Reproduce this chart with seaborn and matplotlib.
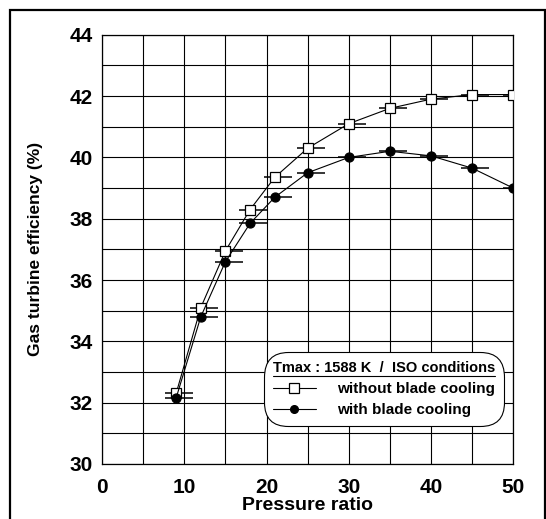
import numpy as np
import pandas as pd
import matplotlib.pyplot as plt
import seaborn as sns
from matplotlib.patches import Rectangle
from matplotlib.lines import Line2D

# data
pressure_ratio = [9, 12, 15, 18, 21, 25, 30, 35, 40, 45, 50]
eff_no_cooling = [32.3, 35.1, 36.95, 38.3, 39.35, 40.3, 41.1, 41.6, 41.9, 42.05, 42.05]
eff_cooling = [32.15, 34.8, 36.6, 37.85, 38.7, 39.5, 40.0, 40.2, 40.05, 39.65, 39.0]
labels = ['without blade cooling', 'with blade cooling']
legend_title = 'Tmax : 1588 K  /  ISO conditions'

df = pd.DataFrame({
    'pr': pressure_ratio * 2,
    'eff': eff_no_cooling + eff_cooling,
    'case': [labels[0]] * len(pressure_ratio) + [labels[1]] * len(pressure_ratio),
})

sns.set_style('white')
plt.rcParams['font.family'] = ['Liberation Sans', 'DejaVu Sans']
plt.rcParams['font.weight'] = 'bold'
plt.rcParams['text.color'] = 'black'
plt.rcParams['axes.labelcolor'] = 'black'
plt.rcParams['xtick.color'] = 'black'
plt.rcParams['ytick.color'] = 'black'

fig = plt.figure(figsize=(5.46, 5.19), dpi=100)
ax = fig.add_axes([0.187, 0.106, 0.753, 0.827])

# dash marks through the points
for eff in [eff_no_cooling, eff_cooling]:
    ax.plot(np.array(pressure_ratio) + 0.4, eff, ls='none', marker='_', ms=20, mew=1.1,
            color='black', zorder=3)

sns.lineplot(data=df, x='pr', y='eff', hue='case', style='case',
             markers={labels[0]: 's', labels[1]: 'o'}, dashes=False,
             palette={labels[0]: 'black', labels[1]: 'black'},
             linewidth=0.8, markersize=7.5, ax=ax, legend=False, zorder=4)
for ln, fc in zip(ax.lines[-2:], ['white', 'black']):
    ln.set_markerfacecolor(fc)
    ln.set_markeredgecolor('black')
    ln.set_markeredgewidth(0.9)
ax.lines[-1].set_markersize(6.5)

ax.set_xlim(0, 50)
ax.set_ylim(30, 44)
ax.set_xticks(range(0, 51, 10))
ax.set_xticks(range(5, 50, 10), minor=True)
ax.set_yticks(range(30, 45, 2))
ax.set_yticks(range(31, 44, 2), minor=True)
ax.grid(True, which='both', color='black', linewidth=0.8)
ax.tick_params(which='both', length=0, labelsize=15)
ax.tick_params(axis='x', pad=10)
ax.tick_params(axis='y', pad=7)
for s in ax.spines.values():
    s.set_color('black')
    s.set_linewidth(0.9)
ax.set_xlabel('Pressure ratio', fontsize=14, fontweight='bold', labelpad=0)
ax.set_ylabel('Gas turbine efficiency (%)', fontsize=12.5, fontweight='bold', labelpad=19)

handles = [
    Line2D([], [], color='black', lw=0.8, marker='s', ms=6.5, mfc='white', mew=0.9),
    Line2D([], [], color='black', lw=0.8, marker='o', ms=5.5, mfc='black'),
]
leg = ax.legend(handles, labels, title=legend_title, loc='lower right',
                bbox_to_anchor=(0.997, 0.07), fontsize=11, title_fontsize=10.5,
                frameon=True, fancybox=True, handlelength=2.8, handletextpad=1.4,
                borderpad=0.6, labelspacing=0.45)
leg.get_title().set_fontweight('bold')
for t in leg.get_texts():
    t.set_fontweight('bold')
fr = leg.get_frame()
fr.set_edgecolor('black')
fr.set_linewidth(0.8)
fr.set_alpha(1)
fr.set_boxstyle('round,pad=0.0,rounding_size=1.6')

# underline the legend title
fig.canvas.draw()
bb = leg.get_title().get_window_extent().transformed(fig.transFigure.inverted())
fig.add_artist(Line2D([bb.x0, bb.x1], [bb.y0 - 0.002, bb.y0 - 0.002],
                      color='black', lw=0.8, transform=fig.transFigure))

# outer frame
fig.add_artist(Rectangle((0.019, -0.01), 0.979, 0.99, fill=False,
                         edgecolor='black', lw=1.6, transform=fig.transFigure))

fig.savefig('out.png', dpi=100)
